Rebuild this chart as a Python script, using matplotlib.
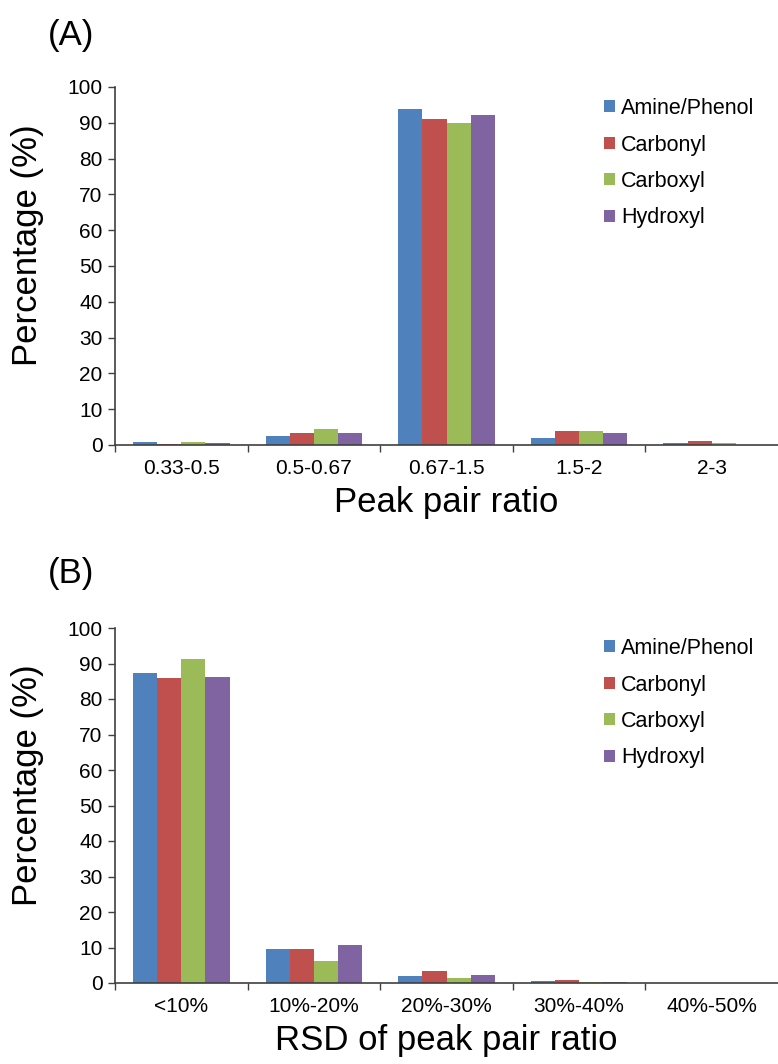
import numpy as np
import matplotlib
matplotlib.use("Agg")
import matplotlib.pyplot as plt

plt.rcParams['font.family'] = ['Liberation Sans', 'DejaVu Sans']

groups = ['Amine/Phenol', 'Carbonyl', 'Carboxyl', 'Hydroxyl']
colors = ['#4F81BD', '#C0504D', '#9BBB59', '#8064A2']

# (A) peak pair ratio
ratio_cats = ['0.33-0.5', '0.5-0.67', '0.67-1.5', '1.5-2', '2-3']
ratio_amine = [0.7, 2.5, 93.9, 1.9, 0.6]
ratio_carbonyl = [0.4, 3.3, 91.1, 3.9, 1.0]
ratio_carboxyl = [0.9, 4.4, 89.9, 4.0, 0.5]
ratio_hydroxyl = [0.5, 3.4, 92.3, 3.4, 0.1]

# (B) RSD of peak pair ratio
rsd_cats = ['<10%', '10%-20%', '20%-30%', '30%-40%', '40%-50%']
rsd_amine = [87.3, 9.7, 2.1, 0.5, 0.0]
rsd_carbonyl = [85.9, 9.5, 3.3, 0.9, 0.0]
rsd_carboxyl = [91.3, 6.3, 1.4, 0.3, 0.0]
rsd_hydroxyl = [86.2, 10.7, 2.3, 0.4, 0.0]

W, H = 778, 1064
fig = plt.figure(figsize=(W / 100, H / 100), dpi=100)


def panel(rect, cats, series, xlabel, tag, tag_y, ylab_y, leg_top):
    ax = fig.add_axes(rect)
    x = np.arange(len(cats))
    w = 0.182
    for i, (vals, c, name) in enumerate(zip(series, colors, groups)):
        ax.bar(x + (i - 1.5) * w, vals, w, color=c, label=name, linewidth=0)
    ax.set_xlim(-0.5, len(cats) - 0.5)
    ax.set_ylim(0, 100)
    ax.set_yticks(np.arange(0, 101, 10))
    ax.set_xticks(x)
    ax.set_xticklabels(cats, fontsize=15)
    # category boundary ticks
    ax.set_xticks(np.arange(-0.5, len(cats) - 1, 1.0), minor=True)
    ax.tick_params(axis='x', which='major', length=0, pad=10)
    ax.tick_params(axis='x', which='minor', length=5, width=1, color='#404040', direction='out')
    ax.tick_params(axis='y', labelsize=15, length=5, width=1, color='#404040', pad=4)
    for s in ['top', 'right']:
        ax.spines[s].set_visible(False)
    for s in ['left', 'bottom']:
        ax.spines[s].set_color('#404040')
        ax.spines[s].set_linewidth(1.2)
    ax.set_xlabel(xlabel, fontsize=25, labelpad=6)
    fig.text(28 / W, 1 - ylab_y / H, 'Percentage (%)', fontsize=25, rotation=90,
             ha='center', va='center')
    fig.text(48 / W, 1 - tag_y / H, tag, fontsize=25, ha='left', va='center')
    ax.legend(loc='upper left', bbox_to_anchor=(604 / W, 1 - leg_top / H),
              bbox_transform=fig.transFigure, frameon=False, fontsize=15.5,
              handlelength=0.5, handleheight=0.5, handletextpad=0.3,
              labelspacing=0.72, borderaxespad=0, borderpad=0)
    return ax


panel([115 / W, 1 - 445 / H, 1 - 115 / W, 358 / H], ratio_cats,
      [ratio_amine, ratio_carbonyl, ratio_carboxyl, ratio_hydroxyl],
      'Peak pair ratio', '(A)', 36, 245, 98)

panel([115 / W, 1 - 983 / H, 1 - 115 / W, 355 / H], rsd_cats,
      [rsd_amine, rsd_carbonyl, rsd_carboxyl, rsd_hydroxyl],
      'RSD of peak pair ratio', '(B)', 574, 785, 638)

fig.savefig('out.png', dpi=100)
